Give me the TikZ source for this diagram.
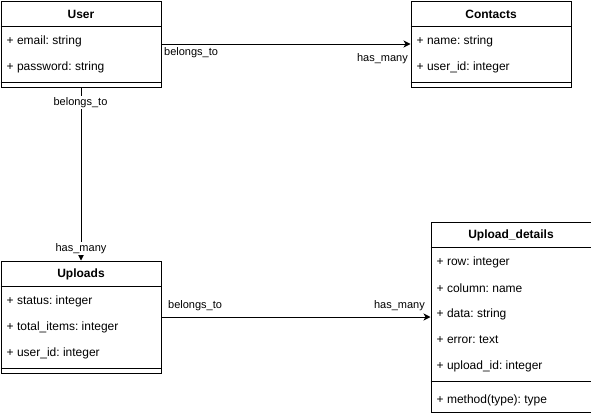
\documentclass[tikz,border=0pt]{standalone}
\usepackage{fontspec}
\setmainfont{Liberation Sans}
\usetikzlibrary{arrows.meta}
\frenchspacing
\begin{document}
\frenchspacing
\begin{tikzpicture}[x=1pt,y=-1pt,
 box/.style={draw,line width=1pt,minimum width=160pt,inner sep=0,anchor=north west},
 sepline/.style={line width=1pt},
 attr/.style={anchor=west,inner sep=0,yshift=-1.5pt,font=\fontsize{12}{14}\selectfont\frenchspacing},
 title/.style={font=\bfseries\fontsize{12}{14}\selectfont,inner sep=0,yshift=-1pt},
 lbl/.style={inner sep=1pt,yshift=-1.5pt,font=\fontsize{11}{13}\selectfont},
 rel/.style={line width=1pt,-{Stealth[length=7pt,width=7pt,inset=2pt]}}]
\useasboundingbox (0,0) rectangle (591,415);

% User
\node[box,minimum height=86pt] (user) at (0.5,0.5) {};
\draw[sepline] ([yshift=-26pt]user.north west) -- ([yshift=-26pt]user.north east);
\draw[sepline] ([yshift=-82pt]user.north west) -- ([yshift=-82pt]user.north east);
\node[title] (usert) at ([yshift=-13pt]user.north) {User};
\node[attr] (u1) at ([xshift=6pt,yshift=-39pt]user.north west) {+ email: string};
\node[attr] (u2) at ([xshift=6pt,yshift=-65pt]user.north west) {+ password: string};

% Contacts
\node[box,minimum height=86pt] (contacts) at (410.5,0.5) {};
\draw[sepline] ([yshift=-26pt]contacts.north west) -- ([yshift=-26pt]contacts.north east);
\draw[sepline] ([yshift=-82pt]contacts.north west) -- ([yshift=-82pt]contacts.north east);
\node[title] (contactst) at ([yshift=-13pt]contacts.north) {Contacts};
\node[attr] (c1) at ([xshift=6pt,yshift=-39pt]contacts.north west) {+ name: string};
\node[attr] (c2) at ([xshift=6pt,yshift=-65pt]contacts.north west) {+ user\_id: integer};

% Uploads
\node[box,minimum height=112pt] (uploads) at (0.5,260.5) {};
\draw[sepline] ([yshift=-26pt]uploads.north west) -- ([yshift=-26pt]uploads.north east);
\draw[sepline] ([yshift=-108pt]uploads.north west) -- ([yshift=-108pt]uploads.north east);
\node[title] (uploadst) at ([yshift=-13pt]uploads.north) {Uploads};
\node[attr] (p1) at ([xshift=6pt,yshift=-39pt]uploads.north west) {+ status: integer};
\node[attr] (p2) at ([xshift=6pt,yshift=-65pt]uploads.north west) {+ total\_items: integer};
\node[attr] (p3) at ([xshift=6pt,yshift=-91pt]uploads.north west) {+ user\_id: integer};

% Upload_details
\node[box,minimum height=190pt] (details) at (430.5,221.5) {};
\draw[sepline] ([yshift=-26pt]details.north west) -- ([yshift=-26pt]details.north east);
\draw[sepline] ([yshift=-160pt]details.north west) -- ([yshift=-160pt]details.north east);
\node[title] (detailst) at ([yshift=-13pt]details.north) {Upload\_details};
\node[attr] (d1) at ([xshift=6pt,yshift=-39pt]details.north west) {+ row: integer};
\node[attr] (d2) at ([xshift=6pt,yshift=-65pt]details.north west) {+ column: name};
\node[attr] (d3) at ([xshift=6pt,yshift=-91pt]details.north west) {+ data: string};
\node[attr] (d4) at ([xshift=6pt,yshift=-117pt]details.north west) {+ error: text};
\node[attr] (d5) at ([xshift=6pt,yshift=-143pt]details.north west) {+ upload\_id: integer};
\node[attr] (d6) at ([xshift=6pt,yshift=-177pt]details.north west) {+ method(type): type};

% relations
\draw[rel] (user.east) -- (contacts.west);
\draw[rel] (user.south) -- (uploads.north);
\draw[rel] (uploads.east) -- (details.west);

% labels
\node[lbl,anchor=west] (l1) at (163,51) {belongs\_to};
\node[lbl,anchor=east] (l2) at (409,57) {has\_many};
\node[lbl,fill=white] (l3) at (80.5,101) {belongs\_to};
\node[lbl,fill=white] (l4) at (81,247) {has\_many};
\node[lbl,anchor=west] (l5) at (167,304) {belongs\_to};
\node[lbl,anchor=east] (l6) at (426,304) {has\_many};
\end{tikzpicture}
\end{document}
